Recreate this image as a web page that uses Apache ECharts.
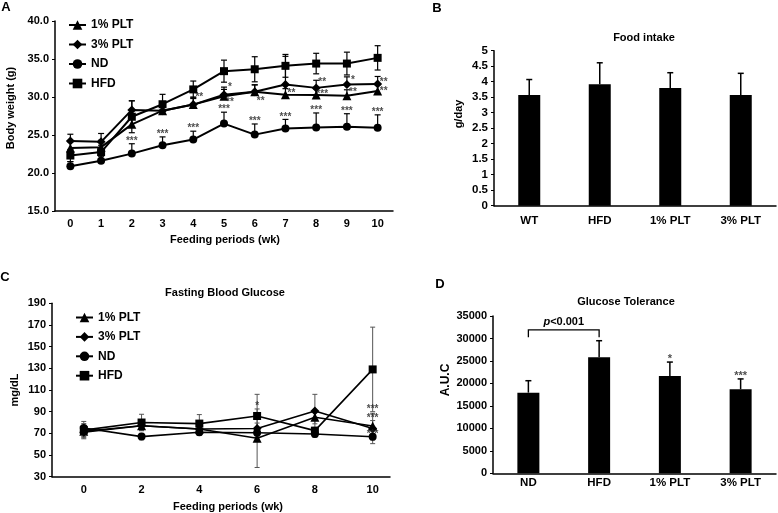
<!DOCTYPE html>
<html><head><meta charset="utf-8">
<script src="https://cdn.jsdelivr.net/npm/echarts@6/dist/echarts.min.js"></script>
<style>html,body{margin:0;padding:0;background:#fff}#c{width:778px;height:513px}</style>
</head><body><div id="c"></div>
<script>
// ---------- Panel A: Body weight ----------
const weeksA = ['0','1','2','3','4','5','6','7','8','9','10'];
const plt1A = [23.3, 23.4, 26.4, 28.2, 29.0, 30.1, 30.7, 30.3, 30.25, 30.15, 30.8];
const plt3A = [24.2, 24.1, 28.3, 28.2, 29.0, 30.3, 30.7, 31.65, 31.2, 31.65, 31.7];
const ndA   = [20.9, 21.6, 22.55, 23.65, 24.4, 26.5, 25.05, 25.85, 26.0, 26.1, 25.95];
const hfdA  = [22.3, 22.75, 27.4, 29.05, 31.0, 33.4, 33.65, 34.1, 34.4, 34.4, 35.15];
const plt1ErrA = [0.8, 0.9, 1.0, 1.0, 0.8, 0.9, 0.9, 0.8, 0.8, 0.8, 0.8];
const plt3ErrA = [0.9, 1.1, 1.2, 1.1, 1.0, 1.0, 0.9, 3.7, 1.0, 1.0, 1.0];
const ndErrA   = [0.6, 0.6, 1.3, 1.1, 1.1, 1.5, 1.4, 1.2, 1.9, 1.7, 1.7];
const hfdErrA  = [0.8, 0.9, 2.1, 1.3, 1.1, 1.45, 1.65, 1.5, 1.35, 1.5, 1.6];
const ndStarsA = ['', '', '***', '***', '***', '***', '***', '***', '***', '***', '***'];
const otherStarsA = [[4, 30.3, '**'], [5, 31.7, '*'], [5, 29.7, '**'], [6, 29.9, '**'], [7, 30.85, '**'],
  [8, 32.35, '**'], [8, 30.7, '***'], [9, 32.6, '*'], [9, 31.05, '**'], [10, 32.4, '**'], [10, 31.1, '**']];
const ticksA = [15, 40, 5];

// ---------- Panel B: Food intake ----------
const catsB = ['WT', 'HFD', '1% PLT', '3% PLT'];
const valsB = [3.57, 3.92, 3.8, 3.57];
const errB  = [0.5, 0.69, 0.49, 0.7];

// ---------- Panel C: Fasting blood glucose ----------
const weeksC = [0, 2, 4, 6, 8, 10];
const plt1C = [72, 77, 74, 65.5, 84.8, 76.8];
const plt3C = [71, 77, 74, 74.5, 90.7, 74.5];
const ndC   = [75, 67, 71, 70.5, 69.4, 66.9];
const hfdC  = [73, 80, 79, 86, 72.5, 129];
const plt1ErrC = [5, 4, 4, 27, 6, 5];
const plt3ErrC = [5, 4, 4, 5, 15.3, 14];
const ndErrC   = [4, 3, 3, 3, 3, 3];
const hfdErrC  = [8, 7.6, 8.3, 20, 3, 39];
const starsC = [[6, 97.8, '*'], [10, 94.6, '***'], [10, 87, '***'], [10, 72, '***']];

// ---------- Panel D: Glucose tolerance ----------
const catsD = ['ND', 'HFD', '1% PLT', '3% PLT'];
const valsD = [17950, 25800, 21650, 18700];
const errD  = [2650, 3700, 3100, 2300];
const starsD = ['', '', '*', '***'];
const bracketD = [0, 1, 31900, 1650];
const bracketText = 'p<0.001';

const FF = '"Liberation Sans", Arial, sans-serif';
const lab = {fontFamily: FF, fontWeight: 'bold', color: '#000', fontSize: 11};
const axLine = {show: true, onZero: false, lineStyle: {color: '#000', width: 1.5}};

function errBar(xi, xs, ys, es, both, cap, color, w) {
  return {
    type: 'custom', xAxisIndex: xi, yAxisIndex: xi, z: 1, silent: true,
    data: ys.map((y, i) => [xs[i], y, es[i]]),
    renderItem: (p, api) => {
      const x = api.value(0), y = api.value(1), e = api.value(2);
      const t = api.coord([x, y + e]);
      const b = api.coord([x, both ? y - e : y]);
      const st = {stroke: color, lineWidth: w};
      const ch = [
        {type: 'line', shape: {x1: t[0], y1: t[1], x2: b[0], y2: b[1]}, style: st},
        {type: 'line', shape: {x1: t[0] - cap, y1: t[1], x2: t[0] + cap, y2: t[1]}, style: st}
      ];
      if (both) ch.push({type: 'line', shape: {x1: b[0] - cap, y1: b[1], x2: b[0] + cap, y2: b[1]}, style: st});
      return {type: 'group', children: ch};
    }
  };
}
function stars(xi, items, pos, offset, size) {
  return {
    type: 'scatter', xAxisIndex: xi, yAxisIndex: xi, symbolSize: 1, silent: true, z: 5,
    itemStyle: {color: 'rgba(0,0,0,0)'},
    data: items.filter(it => it[2]).map(it => ({value: [it[0], it[1]], label: {formatter: it[2]}})),
    label: {show: true, position: pos, distance: 1, offset: offset, color: '#222', fontFamily: FF, fontWeight: 'bold', fontSize: size}
  };
}
function lineS(xi, name, xs, ys, sym, size, w) {
  return {type: 'line', name: name, xAxisIndex: xi, yAxisIndex: xi, z: 3,
    data: ys.map((y, i) => [xs[i], y]), symbol: sym, symbolSize: size, showSymbol: true,
    lineStyle: {color: '#000', width: w}, itemStyle: {color: '#000'}, animation: false};
}

const idxA = weeksA.map((w, i) => i);
const names = ['1% PLT', '3% PLT', 'ND', 'HFD'];
const syms = ['triangle', 'diamond', 'circle', 'rect'];

const option = {
  animation: false,
  grid: [
    {left: 55, top: 21, width: 338, height: 190},
    {left: 494, top: 50.7, width: 282, height: 155},
    {left: 52, top: 303.3, width: 338, height: 173.4},
    {left: 493, top: 316, width: 283, height: 157.3}
  ],
  xAxis: [
    {gridIndex: 0, type: 'category', data: weeksA, boundaryGap: true, axisLine: axLine, axisTick: {show: false},
      axisLabel: {...lab, margin: 7}},
    {gridIndex: 1, type: 'category', data: catsB, axisLine: axLine, axisTick: {show: false},
      axisLabel: {...lab, fontSize: 11.5, margin: 9}},
    {gridIndex: 2, type: 'value', min: -1.1, max: 10.6, axisLine: axLine, axisTick: {show: false}, splitLine: {show: false},
      axisLabel: {...lab, margin: 8, customValues: weeksC}},
    {gridIndex: 3, type: 'category', data: catsD, axisLine: axLine, axisTick: {show: false},
      axisLabel: {...lab, fontSize: 11.5, margin: 4}}
  ],
  yAxis: [
    {gridIndex: 0, type: 'value', min: ticksA[0], max: ticksA[1], interval: ticksA[2], axisLine: axLine,
      axisTick: {show: true, length: 3, lineStyle: {color: '#000'}}, splitLine: {show: false},
      axisLabel: {...lab, margin: 6, formatter: v => v.toFixed(1)}},
    {gridIndex: 1, type: 'value', min: 0, max: 5, interval: 0.5, axisLine: axLine,
      axisTick: {show: true, length: 3, lineStyle: {color: '#000'}}, splitLine: {show: false},
      axisLabel: {...lab, fontSize: 11.5, margin: 6}},
    {gridIndex: 2, type: 'value', min: 30, max: 190, interval: 20, axisLine: axLine,
      axisTick: {show: true, length: 3, lineStyle: {color: '#000'}}, splitLine: {show: false},
      axisLabel: {...lab, margin: 6}},
    {gridIndex: 3, type: 'value', min: 0, max: 35000, interval: 5000, axisLine: axLine,
      axisTick: {show: true, length: 3, lineStyle: {color: '#000'}}, splitLine: {show: false},
      axisLabel: {...lab, margin: 6, formatter: v => String(v)}}
  ],
  legend: [
    {data: names, left: 68, top: 19, orient: 'vertical', itemGap: 7.5, itemWidth: 17, itemHeight: 12, padding: 0,
      selectedMode: false, textStyle: {...lab, fontSize: 12}},
    {data: names, left: 75, top: 311.5, orient: 'vertical', itemGap: 7.4, itemWidth: 17, itemHeight: 12, padding: 0,
      selectedMode: false, textStyle: {...lab, fontSize: 12}}
  ],
  graphic: [
    {type: 'text', x: 6, y: 7, style: {text: 'A', font: 'bold 13px ' + FF, fill: '#000', align: 'center', verticalAlign: 'middle'}},
    {type: 'text', x: 437, y: 8, style: {text: 'B', font: 'bold 13px ' + FF, fill: '#000', align: 'center', verticalAlign: 'middle'}},
    {type: 'text', x: 5, y: 277, style: {text: 'C', font: 'bold 13px ' + FF, fill: '#000', align: 'center', verticalAlign: 'middle'}},
    {type: 'text', x: 440, y: 284, style: {text: 'D', font: 'bold 13px ' + FF, fill: '#000', align: 'center', verticalAlign: 'middle'}},
    {type: 'text', x: 644, y: 38, style: {text: 'Food intake', font: 'bold 11px ' + FF, fill: '#000', align: 'center', verticalAlign: 'middle'}},
    {type: 'text', x: 225, y: 293, style: {text: 'Fasting Blood Glucose', font: 'bold 11px ' + FF, fill: '#000', align: 'center', verticalAlign: 'middle'}},
    {type: 'text', x: 626, y: 302, style: {text: 'Glucose Tolerance', font: 'bold 11px ' + FF, fill: '#000', align: 'center', verticalAlign: 'middle'}},
    {type: 'text', x: 225, y: 240, style: {text: 'Feeding periods (wk)', font: 'bold 11px ' + FF, fill: '#000', align: 'center', verticalAlign: 'middle'}},
    {type: 'text', x: 228, y: 507, style: {text: 'Feeding periods (wk)', font: 'bold 11px ' + FF, fill: '#000', align: 'center', verticalAlign: 'middle'}},
    {type: 'text', x: 11, y: 108, rotation: Math.PI / 2, style: {text: 'Body weight (g)', font: 'bold 11px ' + FF, fill: '#000', align: 'center', verticalAlign: 'middle'}},
    {type: 'text', x: 459, y: 114, rotation: Math.PI / 2, style: {text: 'g/day', font: 'bold 11px ' + FF, fill: '#000', align: 'center', verticalAlign: 'middle'}},
    {type: 'text', x: 15, y: 390, rotation: Math.PI / 2, style: {text: 'mg/dL', font: 'bold 11px ' + FF, fill: '#000', align: 'center', verticalAlign: 'middle'}},
    {type: 'text', x: 446, y: 380, rotation: Math.PI / 2, style: {text: 'A.U.C', font: 'bold 12px ' + FF, fill: '#000', align: 'center', verticalAlign: 'middle'}}
  ],
  series: [
    // Panel A error bars
    errBar(0, idxA, plt1A, plt1ErrA, false, 3, '#000', 1.2),
    errBar(0, idxA, plt3A, plt3ErrA, false, 3, '#000', 1.2),
    errBar(0, idxA, ndA, ndErrA, false, 3, '#000', 1.2),
    errBar(0, idxA, hfdA, hfdErrA, true, 3, '#000', 1.2),
    // Panel A lines
    lineS(0, names[0], idxA, plt1A, syms[0], 9, 2),
    lineS(0, names[1], idxA, plt3A, syms[1], 9, 2),
    lineS(0, names[2], idxA, ndA, syms[2], 8, 2),
    lineS(0, names[3], idxA, hfdA, syms[3], 8, 2),
    stars(0, ndA.map((v, i) => [i, v + ndErrA[i], ndStarsA[i]]), 'top', [0, 4], 10),
    stars(0, otherStarsA, 'inside', [6, 3], 10),
    // Panel B
    errBar(1, [0, 1, 2, 3], valsB, errB, false, 3, '#000', 1.5),
    {type: 'bar', xAxisIndex: 1, yAxisIndex: 1, data: valsB, barWidth: 22, itemStyle: {color: '#000'}, z: 2},
    // Panel C error bars
    errBar(2, weeksC, plt1C, plt1ErrC, true, 2.5, '#555', 1),
    errBar(2, weeksC, plt3C, plt3ErrC, true, 2.5, '#555', 1),
    errBar(2, weeksC, ndC, ndErrC, true, 2.5, '#555', 1),
    errBar(2, weeksC, hfdC, hfdErrC, true, 2.5, '#555', 1),
    lineS(2, names[0], weeksC, plt1C, syms[0], 9, 1.6),
    lineS(2, names[1], weeksC, plt3C, syms[1], 9, 1.6),
    lineS(2, names[2], weeksC, ndC, syms[2], 8, 1.6),
    lineS(2, names[3], weeksC, hfdC, syms[3], 8, 1.6),
    stars(2, starsC, 'inside', [0, 3], 10),
    // Panel D
    errBar(3, [0, 1, 2, 3], valsD, errD, false, 3, '#000', 1.5),
    {type: 'bar', xAxisIndex: 3, yAxisIndex: 3, data: valsD, barWidth: 22, itemStyle: {color: '#000'}, z: 2},
    stars(3, valsD.map((v, i) => [i, v + errD[i], starsD[i]]), 'top', [0, 4], 11),
    {type: 'custom', xAxisIndex: 3, yAxisIndex: 3, silent: true, z: 4, data: [bracketD],
      renderItem: (p, api) => {
        const a = api.coord([api.value(0), api.value(2)]);
        const b = api.coord([api.value(1), api.value(2)]);
        const a2 = api.coord([api.value(0), api.value(2) - api.value(3)]);
        const b2 = api.coord([api.value(1), api.value(2) - api.value(3)]);
        const st = {stroke: '#000', lineWidth: 1.3, fill: null};
        return {type: 'group', children: [
          {type: 'polyline', shape: {points: [a2, a, b, b2]}, style: st},
          {type: 'text', x: (a[0] + b[0]) / 2, y: a[1] - 2, style: {
            text: '{i|p}{n|' + bracketText.slice(1) + '}', align: 'center', verticalAlign: 'bottom',
            rich: {i: {fontStyle: 'italic', fontWeight: 'bold', fontSize: 11, fontFamily: FF, fill: '#000'},
                   n: {fontWeight: 'bold', fontSize: 11, fontFamily: FF, fill: '#000'}}}}
        ]};
      }}
  ]
};
const chart = echarts.init(document.getElementById('c'));
chart.setOption(option);
</script>
</body></html>
